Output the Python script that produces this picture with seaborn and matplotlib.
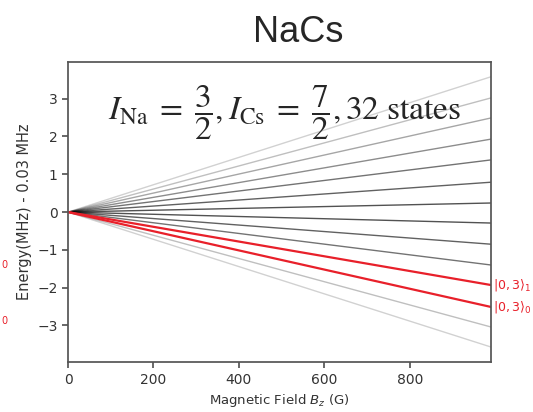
import pandas as pd
import matplotlib.pyplot as plt
import seaborn as sns

# Zeeman fan: energies at zero field and at the largest field (MHz, offset -0.03)
field = [0, 990]
end_energy = [3.58, 3.02, 2.49, 1.93, 1.38, 0.79, 0.24, -0.29, -0.85, -1.40,
              -3.04, -3.57, -1.93, -2.51]
line_alpha = [0.18, 0.25, 0.35, 0.45, 0.55, 0.62, 0.68, 0.68, 0.62, 0.55,
              0.25, 0.18, 1.0, 1.0]
highlight = [False] * 12 + [True, True]
state_labels = [r'$|0,3\rangle_1$', r'$|0,3\rangle_0$']

sns.set_theme(style='ticks')
plt.rcParams['font.family'] = ['DejaVu Sans']
plt.rcParams['mathtext.fontset'] = 'dejavusans'

fig = plt.figure(figsize=(5.33, 4.12), dpi=100)
ax = fig.add_axes([0.1276, 0.121, 0.7936, 0.7285])

# zweig pro zustand
for e, a, h in zip(end_energy, line_alpha, highlight):
    d = pd.DataFrame({'B': field, 'E': [0, e]})
    sns.lineplot(data=d, x='B', y='E', ax=ax,
                 color='#e8202a' if h else 'black',
                 alpha=a, lw=1.6 if h else 1.0)

ax.set_xlim(0, 990)
ax.set_ylim(-3.97, 3.97)
ax.set_xticks([0, 200, 400, 600, 800])
ax.set_yticks([-3, -2, -1, 0, 1, 2, 3])
ax.tick_params(labelsize=10, length=4, color='#555555', labelcolor='#333333')
for s in ax.spines.values():
    s.set_color('#555555')
ax.set_xlabel(r'Magnetic Field $B_z$ (G)', fontsize=9.5, color='#333333')
ax.set_ylabel('Energy(MHz) - 0.03 MHz', fontsize=10.5, color='#333333')

# beschriftung der roten zustände (rechts abgeschnitten)
for lab, e in zip(state_labels, end_energy[-2:]):
    ax.text(995, e, lab, color='#e8202a', fontsize=9, va='center',
            ha='left', clip_on=False)

# reste der labels vom nachbarpanel links
fig.text(0.003, (412 - 265) / 412, '0', color='#e8202a',
         fontsize=7, ha='left', va='center')
fig.text(0.003, (412 - 321) / 412, '0', color='#e8202a',
         fontsize=7, ha='left', va='center')

fig.text(0.559, 0.92, 'NaCs', fontsize=26, ha='center', va='center',
         family='Liberation Sans')
ax.text(0.513, 0.83,
        r'$I_{\mathrm{Na}}\;=\;\dfrac{3}{2},I_{\mathrm{Cs}}\;=\;\dfrac{7}{2},32\ \mathrm{states}$',
        transform=ax.transAxes, ha='center', va='center', fontsize=24,
        math_fontfamily='stix')

fig.savefig('out.png', dpi=100)
